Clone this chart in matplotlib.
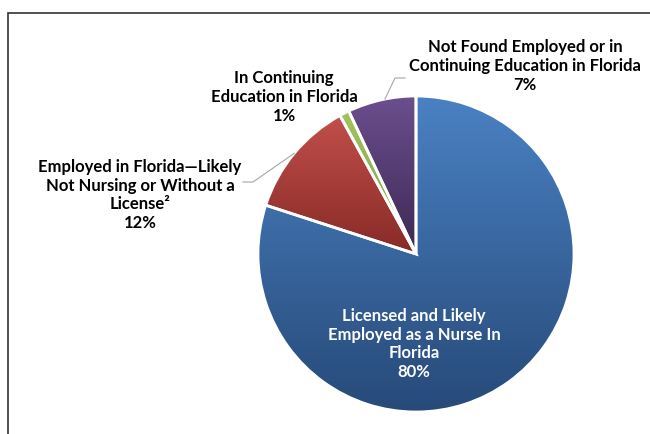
import matplotlib
matplotlib.use('Agg')
import matplotlib.pyplot as plt
import matplotlib.colors as mcolors
from matplotlib.patches import Rectangle
import numpy as np

# dados do gráfico
categorias = [
    'Licensed and Likely\nEmployed as a Nurse In\nFlorida',
    'Employed in Florida\u2014Likely\nNot Nursing or Without a\nLicense\u00b2',
    'In Continuing\nEducation in Florida',
    'Not Found Employed or in\nContinuing Education in Florida',
]
percentuais = [80, 12, 1, 7]

# cores em gradiente (topo, base) de cada fatia
gradientes = [
    ('#4a81c3', '#274a79'),
    ('#c24f4b', '#872a26'),
    ('#a2c35f', '#7f9f45'),
    ('#6b4e8e', '#3d2953'),
]

W, H = 650, 434
fig = plt.figure(figsize=(W / 100, H / 100), dpi=100)
ax = fig.add_axes([0, 0, 1, 1])

cx, cy, raio = 416, H - 254, 158
fatias, _ = ax.pie(percentuais, center=(cx, cy), radius=raio, startangle=90,
                   counterclock=False,
                   wedgeprops=dict(facecolor='none', edgecolor='white', linewidth=2))
ax.set_xlim(0, W)
ax.set_ylim(0, H)
ax.set_aspect('equal')
ax.axis('off')

# preenche cada fatia com gradiente vertical
for w, (c_top, c_bot) in zip(fatias, gradientes):
    w.set_zorder(3)
    ext = w.get_path().get_extents()
    cmap = mcolors.LinearSegmentedColormap.from_list('g', [c_bot, c_top])
    grad = np.linspace(0, 1, 256).reshape(-1, 1)
    im = ax.imshow(grad, cmap=cmap, origin='lower', aspect='auto',
                   extent=(ext.x0, ext.x1, ext.y0, ext.y1), zorder=2)
    im.set_clip_path(w)

ax.set_xlim(0, W)
ax.set_ylim(0, H)

# moldura do gráfico (cortada à direita e embaixo)
ax.add_patch(Rectangle((7.5, -20), 700, H - 13 + 20, fill=False,
                       edgecolor='#333333', linewidth=1.2, zorder=1))

fonte = dict(family=['Lato', 'DejaVu Sans'], fontsize=12, fontweight='bold',
             ha='center', va='center', multialignment='center', linespacing=1.22)

# posições dos rótulos (pixels)
pos_rotulos = [(414, 344), (140, 195), (284, 97), (525, 66)]
cores_texto = ['white', 'black', 'black', 'black']
for cat, pct, (px, py), cor in zip(categorias, percentuais, pos_rotulos, cores_texto):
    ax.text(px, H - py, f'{cat}\n{pct}%', color=cor, zorder=5, **fonte)

# linhas de chamada
def ponto_borda(w, frac):
    ang = np.deg2rad(w.theta1 + (w.theta2 - w.theta1) * frac)
    return cx + raio * np.cos(ang), cy + raio * np.sin(ang)

x_r, y_r = ponto_borda(fatias[1], 0.5)
ax.plot([243, 253, x_r], [H - 182, H - 182, y_r], color='#a6a6a6', lw=0.8, zorder=4)
x_p, y_p = ponto_borda(fatias[3], 0.45)
ax.plot([x_p, 395, 405], [y_p, H - 78, H - 78], color='#a6a6a6', lw=0.8, zorder=4)

plt.savefig('out.png', dpi=100)
plt.close()
